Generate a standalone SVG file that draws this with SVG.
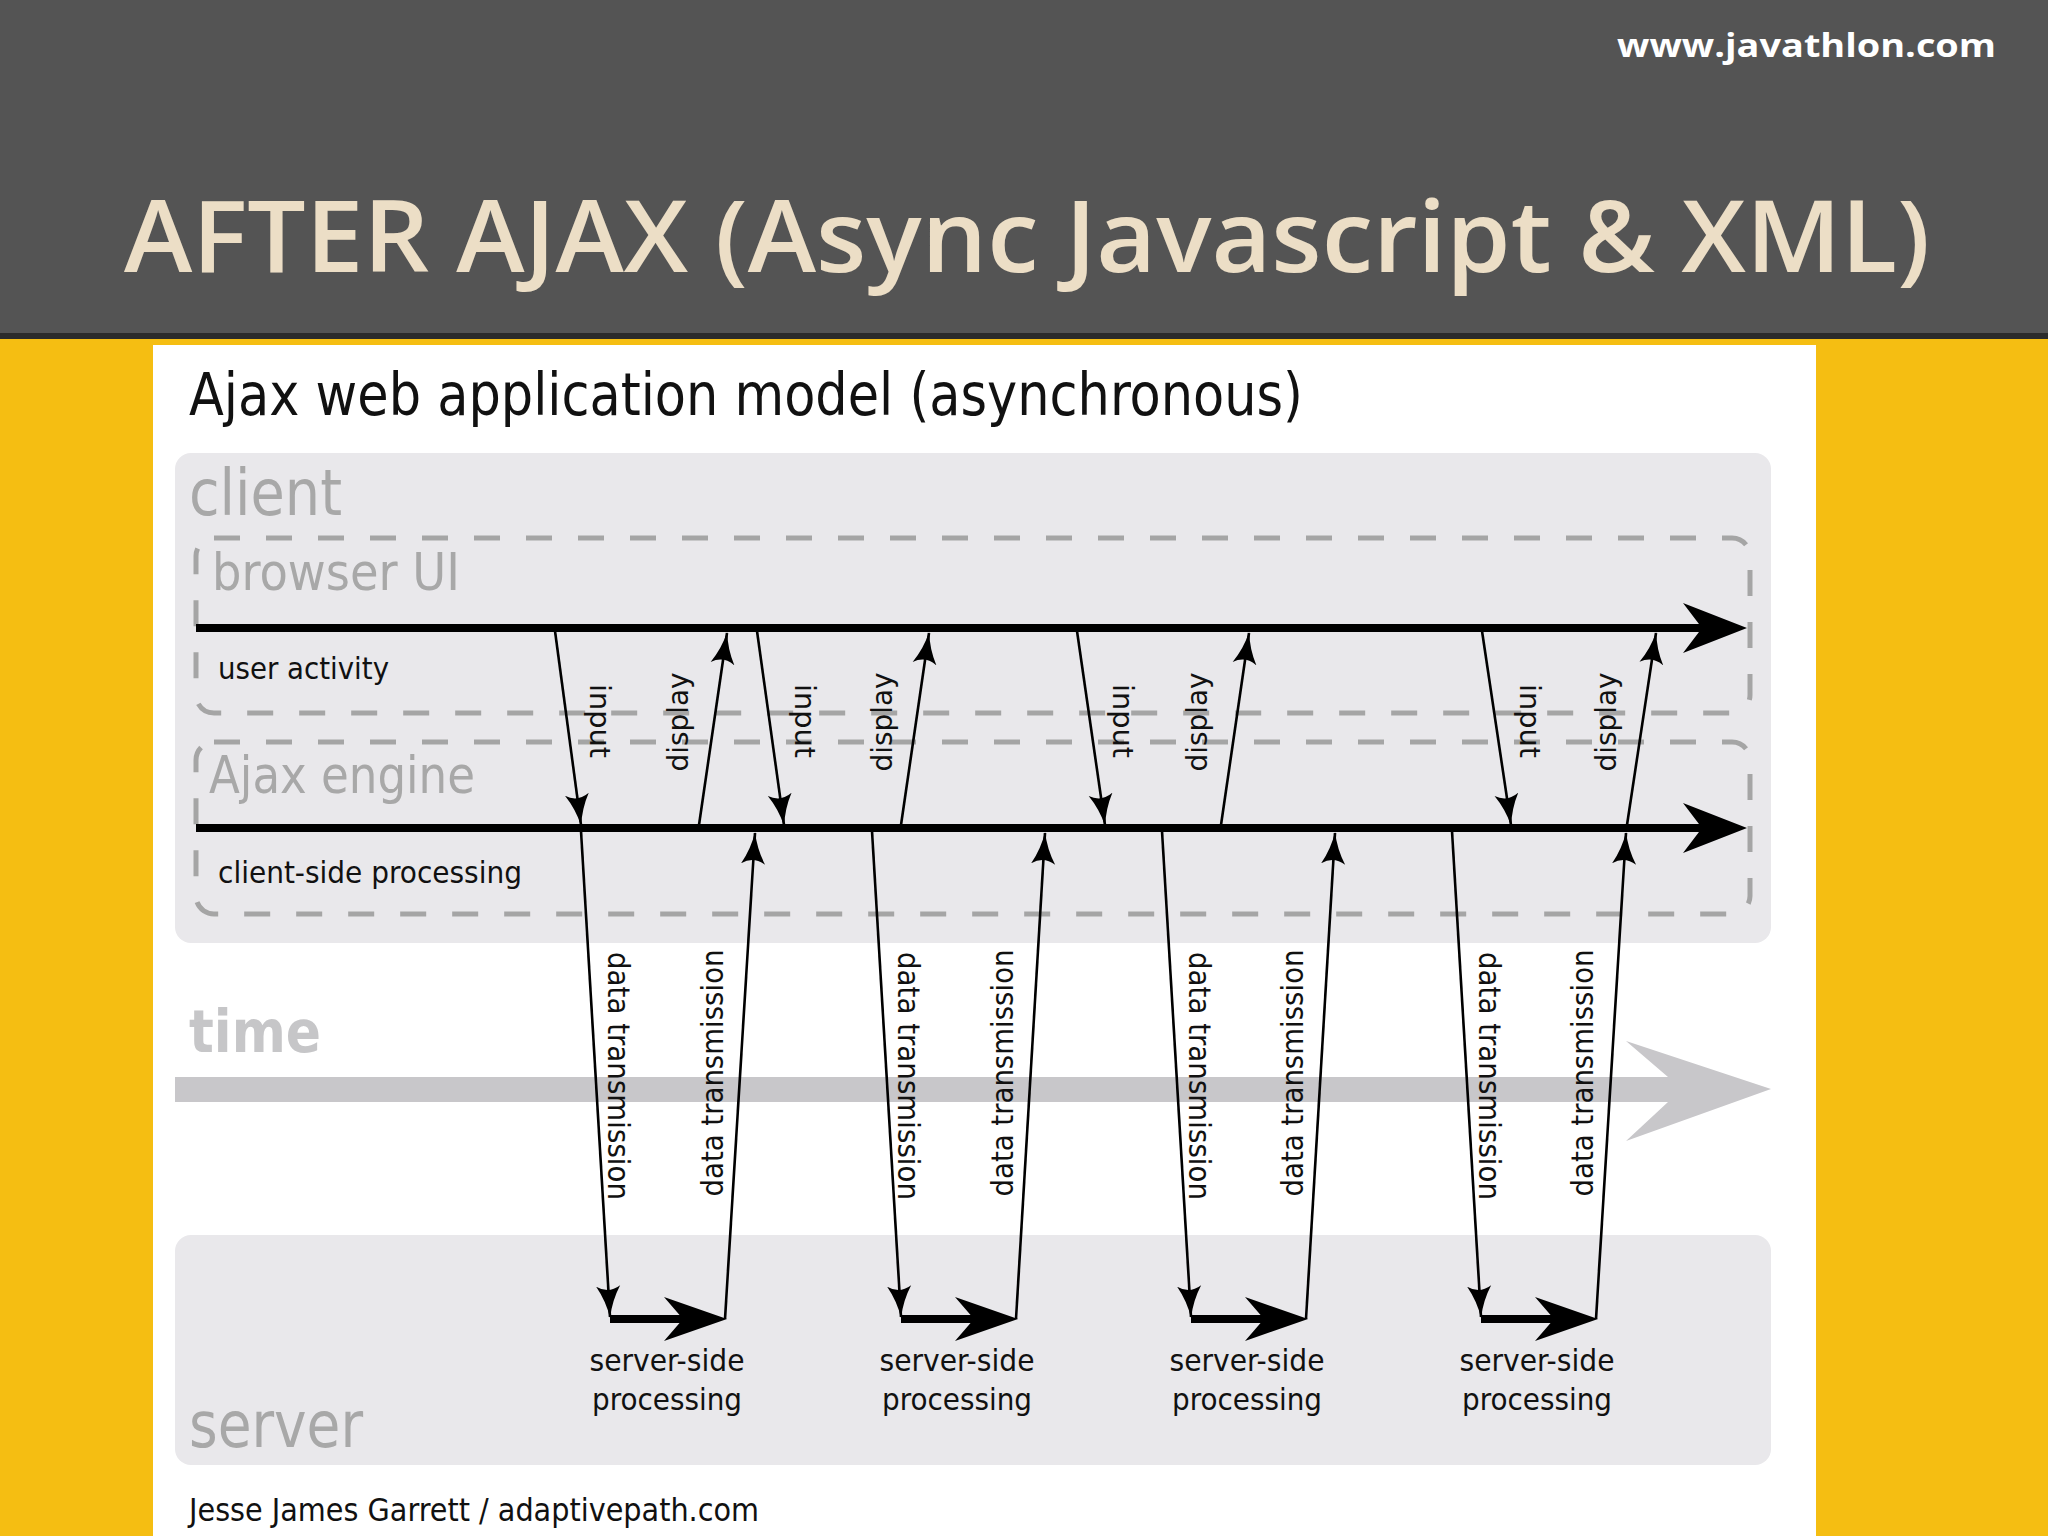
<svg xmlns="http://www.w3.org/2000/svg" width="2048" height="1536" viewBox="0 0 2048 1536">
<defs>
<style>
.f{font-family:"DejaVu Sans Condensed","DejaVu Sans",Verdana,sans-serif}
.g{fill:#a8a8a8}
.k{fill:#111}
.dash{fill:none;stroke:#a5a5a5;stroke-width:5;stroke-dasharray:26 26}
.thin{fill:none;stroke:#000;stroke-width:2.6;marker-end:url(#ah)}
.thick{fill:none;stroke:#000;stroke-width:8}
</style>
<marker id="ah" markerUnits="userSpaceOnUse" markerWidth="32" markerHeight="26" viewBox="0 0 32 26" refX="31" refY="13" orient="auto">
<path d="M0,1 Q15,10 32,13 Q15,16 0,25 Q8,13 0,1Z" fill="#000"/>
</marker>
</defs>

<g id="background">
<rect x="0" y="0" width="2048" height="1536" fill="#f5be12"/>
<rect x="0" y="0" width="2048" height="334" fill="#545454"/>
<rect x="0" y="333" width="2048" height="6" fill="#2b2b2b"/>
<rect x="153" y="345" width="1663" height="1191" fill="#ffffff"/>
</g>

<g id="header">
<text x="1617" y="57" font-family="'Open Sans','DejaVu Sans',sans-serif" font-weight="700" font-size="33" fill="#ffffff" textLength="379" lengthAdjust="spacingAndGlyphs">www.javathlon.com</text>
<text x="124" y="272" font-family="'Open Sans','DejaVu Sans',sans-serif" font-weight="600" font-size="100" fill="#ecdec6" textLength="1806" lengthAdjust="spacingAndGlyphs">AFTER AJAX (Async Javascript &amp; XML)</text>
</g>

<g id="diagram-title">
<text class="f k" x="189" y="415" font-size="58" textLength="1114" lengthAdjust="spacingAndGlyphs">Ajax web application model (asynchronous)</text>
</g>

<g id="client">
<rect x="175" y="453" width="1596" height="490" rx="16" fill="#e9e8eb"/>
<text class="f g" x="189" y="515" font-size="64" textLength="153" lengthAdjust="spacingAndGlyphs">client</text>
</g>

<g id="browser-ui">
<rect class="dash" x="196" y="538" width="1554" height="175" rx="18"/>
<text class="f g" x="212" y="590" font-size="52" textLength="248" lengthAdjust="spacingAndGlyphs">browser UI</text>
<text class="f k" x="218" y="679" font-size="30" textLength="171" lengthAdjust="spacingAndGlyphs">user activity</text>
</g>

<g id="ajax-engine">
<rect class="dash" x="196" y="742" width="1554" height="172" rx="18"/>
<text class="f g" x="209" y="793" font-size="52" textLength="266" lengthAdjust="spacingAndGlyphs">Ajax engine</text>
<text class="f k" x="218" y="883" font-size="30" textLength="304" lengthAdjust="spacingAndGlyphs">client-side processing</text>
</g>

<g id="time">
<text x="189" y="1052" font-family="'DejaVu Sans',Verdana,sans-serif" font-weight="700" font-size="58" fill="#c6c6c8" textLength="132" lengthAdjust="spacingAndGlyphs">time</text>
<path d="M175,1077 H1668 L1626,1041 L1771,1089 L1626,1141 L1668,1102 H175 Z" fill="#c8c7ca"/>
</g>

<g id="server">
<rect x="175" y="1235" width="1596" height="230" rx="16" fill="#e9e8eb"/>
<text class="f g" x="189" y="1447" font-size="64" textLength="174" lengthAdjust="spacingAndGlyphs">server</text>
<g class="f k" font-size="31" text-anchor="middle">
<text x="667" y="1371" textLength="155" lengthAdjust="spacingAndGlyphs">server-side</text>
<text x="667" y="1410" textLength="150" lengthAdjust="spacingAndGlyphs">processing</text>
<text x="957" y="1371" textLength="155" lengthAdjust="spacingAndGlyphs">server-side</text>
<text x="957" y="1410" textLength="150" lengthAdjust="spacingAndGlyphs">processing</text>
<text x="1247" y="1371" textLength="155" lengthAdjust="spacingAndGlyphs">server-side</text>
<text x="1247" y="1410" textLength="150" lengthAdjust="spacingAndGlyphs">processing</text>
<text x="1537" y="1371" textLength="155" lengthAdjust="spacingAndGlyphs">server-side</text>
<text x="1537" y="1410" textLength="150" lengthAdjust="spacingAndGlyphs">processing</text>
</g>
</g>

<g id="credit">
<text class="f k" x="189" y="1521" font-size="32" fill="#222" textLength="570" lengthAdjust="spacingAndGlyphs">Jesse James Garrett / adaptivepath.com</text>
</g>

<g id="connectors">
<!-- timelines -->
<path class="thick" d="M196,628 H1705"/>
<path d="M1747,628 L1683,603 L1702,628 L1683,653 Z" fill="#000"/>
<path class="thick" d="M196,828 H1705"/>
<path d="M1747,828 L1683,803 L1702,828 L1683,853 Z" fill="#000"/>

<!-- input arrows -->
<path class="thin" d="M555,631 L581,825"/>
<path class="thin" d="M757,631 L784,825"/>
<path class="thin" d="M1077,631 L1105,825"/>
<path class="thin" d="M1482,631 L1511,825"/>

<!-- display arrows -->
<path class="thin" d="M699,825 L727,633"/>
<path class="thin" d="M901,825 L929,633"/>
<path class="thin" d="M1221,825 L1249,633"/>
<path class="thin" d="M1627,825 L1656,633"/>

<!-- data transmission down -->
<path class="thin" d="M581,831 L610,1317"/>
<path class="thin" d="M872,831 L901,1317"/>
<path class="thin" d="M1162,831 L1191,1317"/>
<path class="thin" d="M1452,831 L1481,1317"/>

<!-- data transmission up -->
<path class="thin" d="M725,1319 L755,833"/>
<path class="thin" d="M1016,1319 L1045,833"/>
<path class="thin" d="M1306,1319 L1335,833"/>
<path class="thin" d="M1596,1319 L1626,833"/>

<!-- server-side processing -->
<path class="thick" d="M610,1319 H690"/>
<path d="M727,1319 L664,1297 L683,1319 L664,1341 Z" fill="#000"/>
<path class="thick" d="M901,1319 H981"/>
<path d="M1018,1319 L955,1297 L974,1319 L955,1341 Z" fill="#000"/>
<path class="thick" d="M1191,1319 H1271"/>
<path d="M1308,1319 L1245,1297 L1264,1319 L1245,1341 Z" fill="#000"/>
<path class="thick" d="M1481,1319 H1561"/>
<path d="M1598,1319 L1535,1297 L1554,1319 L1535,1341 Z" fill="#000"/>
</g>

<g id="arrow-labels" class="f k" text-anchor="middle" dominant-baseline="central">
<text font-size="29" transform="translate(600,721) rotate(90)" textLength="74" lengthAdjust="spacingAndGlyphs">input</text>
<text font-size="29" transform="translate(805,721) rotate(90)" textLength="74" lengthAdjust="spacingAndGlyphs">input</text>
<text font-size="29" transform="translate(1123,721) rotate(90)" textLength="74" lengthAdjust="spacingAndGlyphs">input</text>
<text font-size="29" transform="translate(1530,721) rotate(90)" textLength="74" lengthAdjust="spacingAndGlyphs">input</text>
<text font-size="29" transform="translate(678,722) rotate(-90)" textLength="99" lengthAdjust="spacingAndGlyphs">display</text>
<text font-size="29" transform="translate(882,722) rotate(-90)" textLength="99" lengthAdjust="spacingAndGlyphs">display</text>
<text font-size="29" transform="translate(1197,722) rotate(-90)" textLength="99" lengthAdjust="spacingAndGlyphs">display</text>
<text font-size="29" transform="translate(1606,722) rotate(-90)" textLength="99" lengthAdjust="spacingAndGlyphs">display</text>
<text font-size="31" transform="translate(619,1076) rotate(90)" textLength="248" lengthAdjust="spacingAndGlyphs">data transmission</text>
<text font-size="31" transform="translate(909,1076) rotate(90)" textLength="248" lengthAdjust="spacingAndGlyphs">data transmission</text>
<text font-size="31" transform="translate(1200,1076) rotate(90)" textLength="248" lengthAdjust="spacingAndGlyphs">data transmission</text>
<text font-size="31" transform="translate(1490,1076) rotate(90)" textLength="248" lengthAdjust="spacingAndGlyphs">data transmission</text>
<text font-size="31" transform="translate(712,1073) rotate(-90)" textLength="247" lengthAdjust="spacingAndGlyphs">data transmission</text>
<text font-size="31" transform="translate(1002,1073) rotate(-90)" textLength="247" lengthAdjust="spacingAndGlyphs">data transmission</text>
<text font-size="31" transform="translate(1292,1073) rotate(-90)" textLength="247" lengthAdjust="spacingAndGlyphs">data transmission</text>
<text font-size="31" transform="translate(1582,1073) rotate(-90)" textLength="247" lengthAdjust="spacingAndGlyphs">data transmission</text>
</g>
</svg>
